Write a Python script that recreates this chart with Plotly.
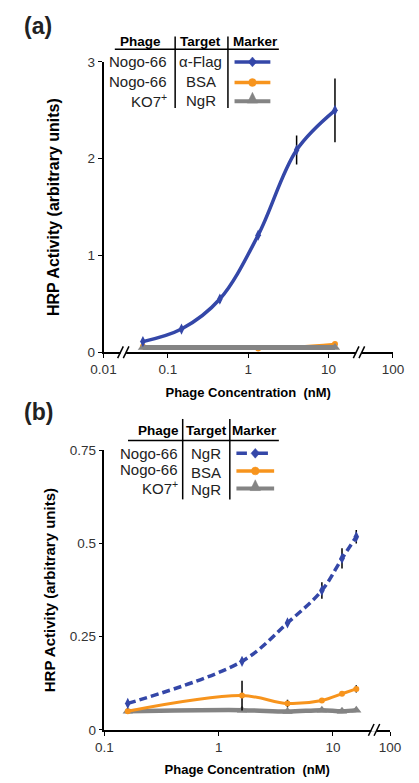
import plotly.graph_objects as go

W, H = 419, 783

# ---------------- data ----------------
# Panel (a)
a_conc = [0.049, 0.148, 0.444, 1.33, 4.0, 12.0]
a_flag = [0.11, 0.24, 0.55, 1.21, 2.09, 2.50]
a_flag_err = [0.01, 0.02, 0.04, 0.02, 0.15, 0.33]
a_bsa_conc = [0.049, 1.33, 12.0]
a_bsa = [0.06, 0.04, 0.085]
a_ko7_conc = [0.049, 12.0]
a_ko7 = [0.05, 0.05]

# Panel (b)
b_conc = [0.16, 1.6, 4.0, 8.0, 12.0, 16.0]
b_ngr = [0.071, 0.184, 0.287, 0.374, 0.46, 0.518]
b_ngr_err = [0.005, 0.008, 0.006, 0.022, 0.027, 0.018]
b_bsa = [0.050, 0.092, 0.071, 0.079, 0.097, 0.110]
b_bsa_err = [0.003, 0.040, 0.010, 0.004, 0.004, 0.010]
b_ko7 = [0.050, 0.053, 0.049, 0.053, 0.050, 0.053]
b_ko7_err = [0.003, 0.004, 0.003, 0.004, 0.003, 0.004]

a_ticks = [10 ** -1.8, 0.1, 1, 10, 10 ** 1.8]
a_ticktext = ["0.01", "0.1", "1", "10", "100"]
b_ticks = [0.1, 1, 10, 10 ** 1.5]
b_ticktext = ["0.1", "1", "10", "100"]
a_yticks = [0, 1, 2, 3]
b_yticks = [0, 0.25, 0.5, 0.75]
b_yticktext = ["0", "0.25", "0.5", "0.75"]

legend_a = [("Nogo-66", "α-Flag"), ("Nogo-66", "BSA"), ("KO7<sup>+</sup>", "NgR")]
legend_b = [("Nogo-66", "NgR"), ("Nogo-66", "BSA"), ("KO7<sup>+</sup>", "NgR")]

BLUE = "#3447A8"
ORANGE = "#F7941D"
GREY = "#848484"
FONT = "Liberation Sans, Arial, sans-serif"


def px(x):
    return x / W


def py(y):
    return 1 - y / H


fig = go.Figure()

err_style = dict(type="data", color="black", thickness=1.5, width=0, visible=True)

# ---- panel (a) traces ----
fig.add_trace(go.Scatter(x=a_bsa_conc, y=a_bsa, mode="lines+markers",
                         line=dict(color=ORANGE, width=2.5, shape="spline"),
                         marker=dict(symbol="circle", size=6, color=ORANGE),
                         xaxis="x", yaxis="y", showlegend=False))
fig.add_trace(go.Scatter(x=a_ko7_conc, y=a_ko7, mode="lines+markers",
                         line=dict(color=GREY, width=5, shape="spline"),
                         marker=dict(symbol="triangle-up", size=9, color=GREY),
                         xaxis="x", yaxis="y", showlegend=False))
fig.add_trace(go.Scatter(x=a_conc, y=a_flag, mode="lines+markers",
                         line=dict(color=BLUE, width=3.5, shape="spline"),
                         marker=dict(symbol="diamond-tall", size=8, color=BLUE),
                         error_y=dict(array=a_flag_err, **err_style),
                         xaxis="x", yaxis="y", showlegend=False))

# ---- panel (b) traces ----
fig.add_trace(go.Scatter(x=b_conc, y=b_ko7, mode="lines+markers",
                         line=dict(color=GREY, width=4.5, shape="spline"),
                         marker=dict(symbol="triangle-up", size=9, color=GREY),
                         error_y=dict(array=b_ko7_err, **err_style),
                         xaxis="x2", yaxis="y2", showlegend=False))
fig.add_trace(go.Scatter(x=b_conc, y=b_bsa, mode="lines+markers",
                         line=dict(color=ORANGE, width=3, shape="spline"),
                         marker=dict(symbol="circle", size=6, color=ORANGE),
                         error_y=dict(array=b_bsa_err, **err_style),
                         xaxis="x2", yaxis="y2", showlegend=False))
fig.add_trace(go.Scatter(x=b_conc, y=b_ngr, mode="lines+markers",
                         line=dict(color=BLUE, width=3.5, dash="8px,4px", shape="spline"),
                         marker=dict(symbol="diamond-tall", size=8, color=BLUE),
                         error_y=dict(array=b_ngr_err, **err_style),
                         xaxis="x2", yaxis="y2", showlegend=False))

tickfont = dict(family=FONT, size=13.5, color="#333333")
titlefont = dict(family=FONT, size=13, color="black")

axis_common = dict(showline=True, linecolor="black", linewidth=1.5, showgrid=False,
                   zeroline=False, ticks="outside", ticklen=4, tickwidth=1.2,
                   tickcolor="black", tickfont=tickfont)

fig.update_layout(
    width=W, height=H,
    margin=dict(l=0, r=0, t=0, b=0),
    paper_bgcolor="white", plot_bgcolor="white",
    font=dict(family=FONT),
    xaxis=dict(domain=[px(96), px(403)], type="log", range=[-1.8, 1.8],
               tickvals=a_ticks, ticktext=a_ticktext, anchor="y",
               title=dict(text="<b>Phage Concentration  (nM)</b>", font=titlefont, standoff=12),
               **axis_common),
    yaxis=dict(domain=[py(352), py(56)], range=[0, 3], tickvals=a_yticks, anchor="x",
               title=dict(text="<b>HRP Activity (arbitrary units)</b>",
                          font=dict(family=FONT, size=16, color="black"), standoff=24),
               **axis_common),
    xaxis2=dict(domain=[px(97), px(400)], type="log", range=[-1, 1.5],
                tickvals=b_ticks, ticktext=b_ticktext, anchor="y2",
                title=dict(text="<b>Phage Concentration  (nM)</b>", font=titlefont, standoff=11),
                **axis_common),
    yaxis2=dict(domain=[py(737), py(452)], range=[0, 0.75], tickvals=b_yticks,
                ticktext=b_yticktext, anchor="x2",
                title=dict(text="<b>HRP Activity (arbitrary units)</b>",
                           font=dict(family=FONT, size=15, color="black"), standoff=10),
                **axis_common),
)

shapes = []
annotations = []

# panel labels
annotations.append(dict(text="<b>(a)</b>", x=px(10), y=py(19), xref="paper", yref="paper",
                        xanchor="left", yanchor="middle", showarrow=False,
                        font=dict(family=FONT, size=23, color="#222222")))
annotations.append(dict(text="<b>(b)</b>", x=px(10), y=py(413), xref="paper", yref="paper",
                        xanchor="left", yanchor="middle", showarrow=False,
                        font=dict(family=FONT, size=23, color="#222222")))


# axis breaks
def axis_break(xc, yc):
    shapes.append(dict(type="rect", xref="paper", yref="paper",
                       x0=px(xc - 3), x1=px(xc + 3), y0=py(yc + 2), y1=py(yc - 2),
                       fillcolor="white", line=dict(width=0), layer="above"))
    for dx in (-3, 3):
        shapes.append(dict(type="line", xref="paper", yref="paper",
                           x0=px(xc + dx - 3), y0=py(yc + 6), x1=px(xc + dx + 3), y1=py(yc - 6),
                           line=dict(color="black", width=1.5), layer="above"))


axis_break(117, 352)
axis_break(367, 352)
axis_break(383, 737)


def diamond(cx, cy, w, h, color):
    path = "M {} {} L {} {} L {} {} L {} {} Z".format(
        px(cx), py(cy - h / 2), px(cx + w / 2), py(cy), px(cx), py(cy + h / 2), px(cx - w / 2), py(cy))
    shapes.append(dict(type="path", path=path, xref="paper", yref="paper",
                       fillcolor=color, line=dict(color=color, width=0.5), layer="above"))


def circle(cx, cy, r, color):
    shapes.append(dict(type="circle", xref="paper", yref="paper",
                       x0=px(cx - r), x1=px(cx + r), y0=py(cy + r), y1=py(cy - r),
                       fillcolor=color, line=dict(color=color, width=0.5), layer="above"))


def triangle(cx, cy, w, h, color):
    path = "M {} {} L {} {} L {} {} Z".format(
        px(cx - w / 2), py(cy + 2), px(cx + w / 2), py(cy + 2), px(cx), py(cy + 2 - h))
    shapes.append(dict(type="path", path=path, xref="paper", yref="paper",
                       fillcolor=color, line=dict(color=color, width=0.5), layer="above"))


def legend_table(rows, hdr_y, line_y, vx1, vx2, vtop, vbot, lx0, lx1,
                 phage_x, target_x, marker_x, row_ys, target_ys, mx0, mx1, dashed_first):
    hfont = dict(family=FONT, size=13.5, color="black")
    rfont = dict(family=FONT, size=15, color="#222222")
    for txt, xx in (("Phage", phage_x[0]), ("Target", target_x), ("Marker", marker_x)):
        annotations.append(dict(text="<b>%s</b>" % txt, x=px(xx), y=py(hdr_y), xref="paper",
                                yref="paper", xanchor="center", yanchor="middle",
                                showarrow=False, font=hfont))
    shapes.append(dict(type="line", xref="paper", yref="paper", x0=px(lx0), x1=px(lx1),
                       y0=py(line_y), y1=py(line_y), line=dict(color="black", width=1.5)))
    for vx in (vx1, vx2):
        shapes.append(dict(type="line", xref="paper", yref="paper", x0=px(vx), x1=px(vx),
                           y0=py(vtop), y1=py(vbot), line=dict(color="black", width=1.5)))
    for i, (ph, tg) in enumerate(rows):
        annotations.append(dict(text=ph, x=px(phage_x[1]), y=py(row_ys[i]), xref="paper",
                                yref="paper", xanchor="right", yanchor="middle",
                                showarrow=False, font=rfont))
        annotations.append(dict(text=tg, x=px(target_x), y=py(target_ys[i]), xref="paper",
                                yref="paper", xanchor="center", yanchor="middle",
                                showarrow=False, font=rfont))
    cx = (mx0 + mx1) / 2
    y0 = row_ys[0]
    shapes.append(dict(type="line", xref="paper", yref="paper", x0=px(mx0), x1=px(mx1),
                       y0=py(y0), y1=py(y0),
                       line=dict(color=BLUE, width=3.5, dash="dash" if dashed_first else "solid"),
                       layer="above"))
    diamond(cx, y0, 9, 10, BLUE)
    y1 = row_ys[1] + 1
    shapes.append(dict(type="line", xref="paper", yref="paper", x0=px(mx0), x1=px(mx1),
                       y0=py(y1), y1=py(y1), line=dict(color=ORANGE, width=3.5), layer="above"))
    circle(cx, y1, 4, ORANGE)
    y2 = row_ys[2] + 1
    shapes.append(dict(type="line", xref="paper", yref="paper", x0=px(mx0), x1=px(mx1),
                       y0=py(y2), y1=py(y2), line=dict(color=GREY, width=4), layer="above"))
    triangle(cx, y2, 11, 11, GREY)


legend_table(legend_a, hdr_y=35, line_y=43, vx1=172, vx2=228, vtop=30, vbot=103,
             lx0=108, lx1=282, phage_x=(135, 166), target_x=199, marker_x=257,
             row_ys=[56, 76, 95], target_ys=[56, 76, 95], mx0=235, mx1=273,
             dashed_first=False)
legend_table(legend_b, hdr_y=432, line_y=442, vx1=180, vx2=230, vtop=420, vbot=502,
             lx0=122, lx1=282, phage_x=(154, 177), target_x=205, marker_x=256,
             row_ys=[455, 472, 490], target_ys=[455, 475, 492], mx0=237, mx1=277,
             dashed_first=True)

fig.update_layout(shapes=shapes, annotations=annotations)

fig.write_html("out.html", config={"displayModeBar": False},
               post_script="document.body.style.margin='0';document.body.style.overflow='hidden';")
